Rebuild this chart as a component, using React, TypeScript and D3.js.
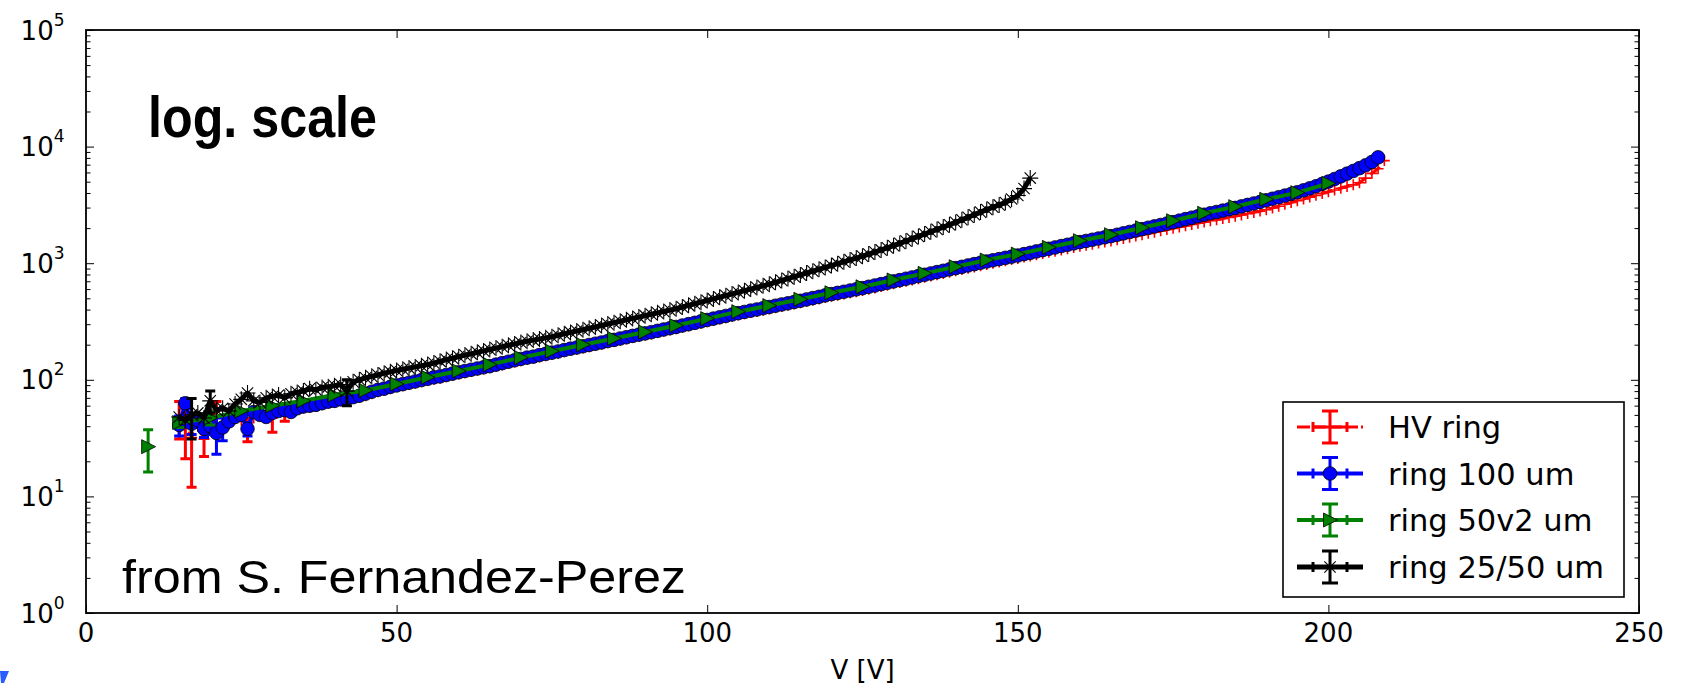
import React, { useRef, useEffect } from 'react';
import * as d3 from 'd3';

// leakage current vs bias voltage, one value per volt unless noted
const hvRingStart = 15;
const hvRing = [
  48, 43, 32, 40, 31, 45, 50, 38, 42, 48, 45, 38, 47, 50, 52, 47, 55, 50, 54, 56, 57,
  58, 59, 61, 63, 64, 66, 67, 69, 71, 73, 76, 79, 81, 84, 87,
  88.7, 91.2, 93.5, 96.1, 98.5, 101, 103, 106, 109, 112, 115, 118, 121, 124, 127, 130, 134, 138, 142, 146,
  150, 153, 157, 161, 165, 169, 174, 179, 183, 187, 192, 197, 202, 208, 213, 218, 224, 230, 236, 242,
  247, 254, 261, 268, 274, 282, 290, 298, 306, 315,
  323, 332, 340, 350, 359, 368, 377, 386, 395, 405, 415, 425, 435, 446, 457, 469, 481, 493, 507, 520,
  532, 544, 557, 570, 584,
  599, 614, 631, 647, 665, 682, 700, 718, 737, 756, 775, 796, 816, 838, 860, 881, 905, 928, 953, 977,
  1000, 1023, 1049, 1074, 1099,
  1128, 1152, 1182, 1210, 1240, 1269, 1301, 1331, 1365, 1396, 1425, 1455, 1487, 1519, 1551,
  1589, 1630, 1672, 1713, 1757, 1803, 1846, 1894, 1943, 1990,
  2041, 2097, 2146, 2203, 2259, 2315, 2363, 2421, 2471, 2532, 2596, 2662, 2728, 2797, 2871,
  2979, 3083, 3199, 3311, 3436, 3556, 3690, 3819, 3963, 4102, 4246, 4395, 4550, 4699, 4898,
  5370, 5888, 6457, 7586,
];

const ring100Start = 15;
const ring100 = [
  41, 63, 42, 45, 38, 40, 35, 39, 44, 48, 50, 38, 53, 50, 48, 52, 54, 55, 53, 57,
  59, 60, 61, 63, 65, 66, 68, 69, 71, 73, 76, 79, 82, 84, 87, 89.5,
  91.8, 94.4, 96.8, 99.5, 102, 105, 107, 110, 113, 116, 119, 122, 125, 128, 131, 135, 139, 143, 147, 151,
  155, 158, 163, 167, 171, 175, 180, 185, 189, 194, 199, 204, 209, 215, 220, 226, 232, 238, 244, 250,
  256, 263, 270, 277, 284, 292, 300, 308, 317, 326,
  335, 344, 353, 363, 373, 382, 392, 401, 411, 421, 432, 443, 453, 465, 476, 489, 502, 515, 530, 543,
  556, 569, 583, 597, 611, 628, 644, 662, 679, 698, 716, 736, 755, 776, 796, 817, 839, 861, 885, 908,
  931, 957, 982, 1009, 1035, 1059, 1084, 1112, 1138, 1164,
  1197, 1227, 1262, 1294, 1330, 1365, 1403, 1439, 1479, 1517, 1552, 1589, 1629, 1667, 1706,
  1754, 1803, 1854, 1905, 1959, 2014, 2070, 2128, 2188, 2249, 2317, 2388, 2455, 2529, 2606,
  2679, 2748, 2825, 2897, 2979, 3069, 3162, 3251, 3350, 3467, 3573, 3681, 3802, 3926, 4064,
  4217, 4385, 4571, 4786, 5012, 5272, 5559, 5861, 6180, 6531, 6918, 7379, 8091,
];

// measured every 5 V; the 10 V point stands apart from the rest of the curve
const ring50v2Volts = [
  10, 15, 20, 25, 30, 35, 40, 45, 50, 55, 60, 65, 70, 75, 80, 85, 90, 95, 100, 105,
  110, 115, 120, 125, 130, 135, 140, 145, 150, 155, 160, 165, 170, 175, 180, 185, 190, 195, 200,
];
const ring50v2 = [
  26.7, 43, 47, 54, 60, 66, 74, 81, 92, 105, 119, 135, 155, 176, 200, 226, 257, 292, 335, 384,
  433, 490, 558, 628, 718, 818, 933, 1064, 1197, 1368, 1560, 1754, 2014, 2312, 2679, 3055, 3532, 4027, 4842,
];

const ring2550Start = 15;
const ring2550 = [
  48, 45, 50, 52, 47, 66, 55, 57, 54, 62, 68, 77, 66, 64, 70, 72, 74, 70, 76, 78,
  80, 84, 82, 86, 87, 89, 91, 80, 96, 100, 104, 107, 110, 114, 117,
  120, 123, 126, 129, 132, 135, 139, 144, 149, 153,
  158, 163, 167, 172, 177, 182, 187, 192, 198, 203,
  209, 214, 219, 224, 229, 234, 241, 248, 255, 262,
  269, 277, 284, 292, 301, 309, 318, 327, 336, 345,
  355, 365, 375, 385, 396, 407, 421, 435, 449, 463,
  479, 494, 511, 527, 545, 562, 581, 600, 619, 640,
  661, 685, 711, 738, 766, 794, 824, 855, 887, 920,
  955, 991, 1028, 1067, 1107, 1148, 1197, 1247, 1300, 1355,
  1413, 1479, 1549, 1622, 1698, 1778, 1862, 1950, 2042, 2138,
  2239, 2355, 2477, 2606, 2742, 2884, 3020, 3162, 3311, 3548,
  3802, 4365, 5370,
];

// [voltage, error] where the error bar is visible
const hvRingErr = [[15, 17], [16, 22], [17, 20], [19, 9], [21, 15], [26, 8.6], [30, 11.5], [32, 6]];
const ring100Err = [[15, 8], [16, 6], [17, 8], [18, 6], [19, 6], [20, 6], [21, 12], [22, 9], [26, 5]];
const ring50v2Err = [[10, 10.5], [15, 4], [20, 6]];
const ring2550Err = [[17, 19], [20, 14], [42, 20]];

const legendLabels = ['HV ring', 'ring 100 um', 'ring 50v2 um', 'ring 25/50 um'];
const xTicks = [0, 50, 100, 150, 200, 250];
const yDecades = [1, 10, 100, 1000, 10000, 100000];

const W = 1694;
const H = 683;
const margin = { top: 30, right: 55, bottom: 70, left: 86 };
const font = "'DejaVu Sans', sans-serif";

const drawMarker = (g, type, cx, cy, color) => {
  if (type === 'plus') {
    g.append('path')
      .attr('d', `M${cx - 5.5},${cy}H${cx + 5.5}M${cx},${cy - 5.5}V${cy + 5.5}`)
      .attr('stroke', color)
      .attr('stroke-width', 1.6);
  } else if (type === 'circle') {
    g.append('circle')
      .attr('cx', cx)
      .attr('cy', cy)
      .attr('r', 6.8)
      .attr('fill', color)
      .attr('stroke', '#000')
      .attr('stroke-width', 0.8);
  } else if (type === 'tri') {
    g.append('path')
      .attr('d', `M${cx + 7.5},${cy}L${cx - 6.5},${cy - 7}L${cx - 6.5},${cy + 7}Z`)
      .attr('fill', color)
      .attr('stroke', '#000')
      .attr('stroke-width', 0.8);
  } else {
    const r = 8;
    const d = r * Math.SQRT1_2;
    g.append('path')
      .attr(
        'd',
        `M${cx - r},${cy}H${cx + r}M${cx},${cy - r}V${cy + r}` +
          `M${cx - d},${cy - d}L${cx + d},${cy + d}M${cx - d},${cy + d}L${cx + d},${cy - d}`
      )
      .attr('stroke', color)
      .attr('stroke-width', 1.1);
  }
};

const App = () => {
  const ref = useRef(null);

  useEffect(() => {
    const svg = d3.select(ref.current);
    svg.selectAll('*').remove();

    const x0 = margin.left;
    const x1 = W - margin.right;
    const y0 = H - margin.bottom;
    const y1 = margin.top;

    const x = d3.scaleLinear().domain([0, 250]).range([x0, x1]);
    const y = d3.scaleLog().domain([1, 1e5]).range([y0, y1]);

    svg.append('rect').attr('width', W).attr('height', H).attr('fill', '#fff');

    const series = [
      {
        color: '#ff0000', marker: 'plus', dash: '12,6', lw: 3, err: hvRingErr, skipFirst: false,
        pts: hvRing.map((c, i) => ({ v: hvRingStart + i, c })),
      },
      {
        color: '#0000ff', marker: 'circle', dash: null, lw: 4, err: ring100Err, skipFirst: false,
        pts: ring100.map((c, i) => ({ v: ring100Start + i, c })),
      },
      {
        color: '#008000', marker: 'tri', dash: null, lw: 4, err: ring50v2Err, skipFirst: true,
        pts: ring50v2.map((c, i) => ({ v: ring50v2Volts[i], c })),
      },
      {
        color: '#000000', marker: 'star', dash: null, lw: 5, err: ring2550Err, skipFirst: false,
        pts: ring2550.map((c, i) => ({ v: ring2550Start + i, c })),
      },
    ];

    const line = d3
      .line()
      .x((d) => x(d.v))
      .y((d) => y(d.c));

    series.forEach((s) => {
      const g = svg.append('g');
      // error bars
      s.err.forEach(([v, e]) => {
        const p = s.pts.find((q) => q.v === v);
        if (!p) return;
        const top = y(p.c + e);
        const bot = y(Math.max(p.c - e, 1.01));
        const cx = x(v);
        g.append('path')
          .attr('d', `M${cx},${top}V${bot}M${cx - 5},${top}H${cx + 5}M${cx - 5},${bot}H${cx + 5}`)
          .attr('stroke', s.color)
          .attr('stroke-width', 3)
          .attr('fill', 'none');
      });
      g.append('path')
        .datum(s.skipFirst ? s.pts.slice(1) : s.pts)
        .attr('d', line)
        .attr('fill', 'none')
        .attr('stroke', s.color)
        .attr('stroke-width', s.lw)
        .attr('stroke-dasharray', s.dash)
        .attr('stroke-linejoin', 'round');
      s.pts.forEach((p) => drawMarker(g, s.marker, x(p.v), y(p.c), s.color));
    });

    // ticks, pointing inwards on all four sides
    const tickStyle = (g) => {
      g.select('.domain').remove();
      g.selectAll('line').attr('stroke', '#000').attr('stroke-width', 1);
      g.selectAll('text').remove();
    };
    const minor = y.ticks().filter((t) => !yDecades.includes(t));

    svg.append('g').attr('transform', `translate(0,${y0})`)
      .call(d3.axisBottom(x).tickValues(xTicks).tickSizeInner(-8).tickSizeOuter(0)).call(tickStyle);
    svg.append('g').attr('transform', `translate(0,${y1})`)
      .call(d3.axisTop(x).tickValues(xTicks).tickSizeInner(-8).tickSizeOuter(0)).call(tickStyle);
    svg.append('g').attr('transform', `translate(${x0},0)`)
      .call(d3.axisLeft(y).tickValues(yDecades).tickSizeInner(-8).tickSizeOuter(0)).call(tickStyle);
    svg.append('g').attr('transform', `translate(${x0},0)`)
      .call(d3.axisLeft(y).tickValues(minor).tickSizeInner(-4.5).tickSizeOuter(0)).call(tickStyle);
    svg.append('g').attr('transform', `translate(${x1},0)`)
      .call(d3.axisRight(y).tickValues(yDecades).tickSizeInner(-8).tickSizeOuter(0)).call(tickStyle);
    svg.append('g').attr('transform', `translate(${x1},0)`)
      .call(d3.axisRight(y).tickValues(minor).tickSizeInner(-4.5).tickSizeOuter(0)).call(tickStyle);

    svg.append('rect')
      .attr('x', x0)
      .attr('y', y1)
      .attr('width', x1 - x0)
      .attr('height', y0 - y1)
      .attr('fill', 'none')
      .attr('stroke', '#000')
      .attr('stroke-width', 1.8);

    // tick labels
    xTicks.forEach((t) => {
      svg.append('text')
        .attr('x', x(t))
        .attr('y', y0 + 29)
        .attr('text-anchor', 'middle')
        .style('font-family', font)
        .style('font-size', '26px')
        .text(t);
    });
    yDecades.forEach((t) => {
      const ty = y(t);
      svg.append('text')
        .attr('x', 53.7)
        .attr('y', ty + 9.5)
        .attr('text-anchor', 'end')
        .style('font-family', font)
        .style('font-size', '26px')
        .text('10');
      svg.append('text')
        .attr('x', 53.7)
        .attr('y', ty - 4.5)
        .style('font-family', font)
        .style('font-size', '17px')
        .text(Math.round(Math.log10(t)));
    });

    svg.append('text')
      .attr('x', (x0 + x1) / 2)
      .attr('y', 679)
      .attr('text-anchor', 'middle')
      .style('font-family', font)
      .style('font-size', '26px')
      .text('V [V]');

    // annotations
    svg.append('text')
      .attr('x', 148)
      .attr('y', 137)
      .attr('textLength', 229)
      .attr('lengthAdjust', 'spacingAndGlyphs')
      .style('font-family', "'Liberation Sans Narrow', 'Liberation Sans', Arial, sans-serif")
      .style('font-weight', 'bold')
      .style('font-size', '58px')
      .text('log. scale');

    svg.append('text')
      .attr('x', 122)
      .attr('y', 593)
      .attr('textLength', 564)
      .attr('lengthAdjust', 'spacingAndGlyphs')
      .style('font-family', "'Liberation Sans', Arial, sans-serif")
      .style('font-size', '47px')
      .text('from S. Fernandez-Perez');

    // legend
    const lg = svg.append('g');
    lg.append('rect')
      .attr('x', 1283)
      .attr('y', 402)
      .attr('width', 341)
      .attr('height', 195)
      .attr('fill', '#fff')
      .attr('stroke', '#000')
      .attr('stroke-width', 1.6);
    const rowY = [427, 473.5, 520, 567];
    series.forEach((s, i) => {
      const cy = rowY[i];
      const cx = 1330;
      lg.append('path')
        .attr('d', `M1297,${cy}H1363`)
        .attr('stroke', s.color)
        .attr('stroke-width', s.lw)
        .attr('stroke-dasharray', s.dash ? '13,3' : null);
      lg.append('path')
        .attr(
          'd',
          `M${cx - 17},${cy}H${cx + 17}M${cx - 17},${cy - 5}V${cy + 5}M${cx + 17},${cy - 5}V${cy + 5}` +
            `M${cx},${cy - 16}V${cy + 16}M${cx - 8},${cy - 16}H${cx + 8}M${cx - 8},${cy + 16}H${cx + 8}`
        )
        .attr('stroke', s.color)
        .attr('stroke-width', 3)
        .attr('fill', 'none');
      drawMarker(lg, s.marker, cx, cy, s.color);
      lg.append('text')
        .attr('x', 1388)
        .attr('y', cy + 11)
        .style('font-family', font)
        .style('font-size', '30.5px')
        .text(legendLabels[i]);
    });

    // stray blue mark at the bottom-left edge of the source image
    svg.append('path')
      .attr('d', 'M0,671L9,671L4,683L1,683Z')
      .attr('fill', '#2a5cff');
  }, []);

  return (
    <svg
      ref={ref}
      width={W}
      height={H}
      style={{ position: 'absolute', left: 0, top: 0, display: 'block' }}
    ></svg>
  );
};

export default App;
